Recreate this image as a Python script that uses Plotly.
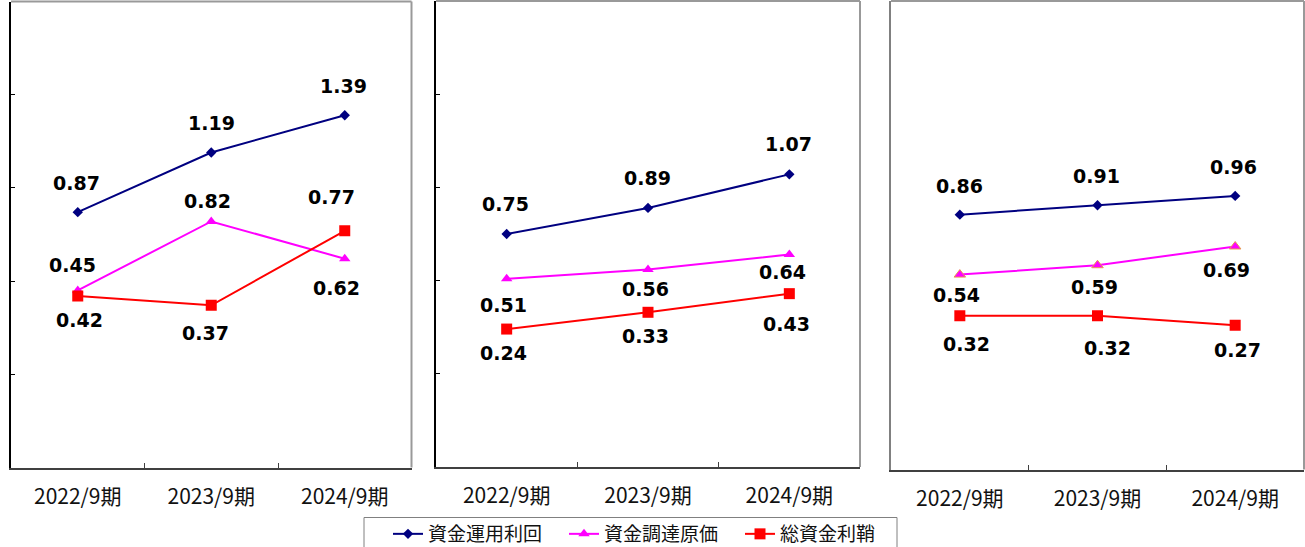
import plotly.graph_objects as go

# ---------------- data ----------------
categories = ["2022/9期", "2023/9期", "2024/9期"]
series_names = ["資金運用利回", "資金調達原価", "総資金利鞘"]

panel1_yield = [0.87, 1.19, 1.39]
panel1_cost = [0.45, 0.82, 0.62]
panel1_margin = [0.42, 0.37, 0.77]

panel2_yield = [0.75, 0.89, 1.07]
panel2_cost = [0.51, 0.56, 0.64]
panel2_margin = [0.24, 0.33, 0.43]

panel3_yield = [0.86, 0.91, 0.96]
panel3_cost = [0.54, 0.59, 0.69]
panel3_margin = [0.32, 0.32, 0.27]

y_ticks = [0, 0.5, 1.0, 1.5]

# ---------------- styles ----------------
W, H = 1305, 547
colors = ["#000080", "#FF00FF", "#FF0000"]
symbols = ["diamond", "triangle-up", "square"]
msizes = [8, 10, 11]

# label offsets (px) per panel -> series -> point : (dx, dy)  (dy>0 = below)
label_dx = [
    [[-1, 0, -1], [-5, -4, -8], [2, -6, -13]],
    [[-1, -1, -1], [-3, -3, -7], [-3, -3, -3]],
    [[0, -1, -2], [-3, -3, -9], [7, 10, 2]],
]
label_dy = [
    [[-29, -29, -29], [-25, -20, 29], [24, 28, -34]],
    [[-30, -30, -30], [26, 20, 17], [24, 24, 30]],
    [[-29, -29, -29], [20, 22, 24], [28, 32, 25]],
]

# panel pixel boxes (left, right, top, bottom)
boxes = [(11, 411.5, 1.5, 467.5), (436, 860, 1.0, 467.0), (891, 1304, 1.0, 469.5)]
left_line_colors = ["#000000", "#000000", "#808080"]

panels = [
    [panel1_yield, panel1_cost, panel1_margin],
    [panel2_yield, panel2_cost, panel2_margin],
    [panel3_yield, panel3_cost, panel3_margin],
]

fig = go.Figure()
annotations = []
shapes = []
layout = dict(
    width=W, height=H, margin=dict(l=0, r=0, t=0, b=0, autoexpand=False),
    paper_bgcolor="white", plot_bgcolor="white",
    showlegend=True,
)

for p, (series_list, box) in enumerate(zip(panels, boxes)):
    sfx = "" if p == 0 else str(p + 1)
    xa, ya = "x" + sfx, "y" + sfx
    l, r, t, b = box
    layout["xaxis" + sfx] = dict(
        domain=[l / W, r / W], type="category", range=[-0.5, 2.5],
        showline=True, linecolor="#404040", linewidth=2,
        ticks="inside", ticklen=5, tickcolor="#404040", tickwidth=1,
        tickson="boundaries", showgrid=False, zeroline=False,
        tickfont=dict(family="Noto Sans CJK JP", size=21, color="#111111"),
        ticklabelstandoff=9, anchor=ya, fixedrange=True, automargin=False,
    )
    layout["yaxis" + sfx] = dict(
        domain=[(H - b) / H, (H - t) / H], range=[-0.5, 2.0],
        showline=True, linecolor=left_line_colors[p], linewidth=2,
        tickvals=y_ticks if p < 2 else [], ticks="inside" if p < 2 else "",
        ticklen=4, tickcolor="#000000", tickwidth=1,
        showticklabels=False, showgrid=False, zeroline=False,
        anchor=xa, fixedrange=True, automargin=False,
    )
    # top and right frame lines (gray)
    shapes.append(dict(type="line", xref=xa + " domain", yref=ya + " domain",
                       x0=0, x1=1, y0=1, y1=1, line=dict(color="#999999", width=2)))
    shapes.append(dict(type="line", xref=xa + " domain", yref=ya + " domain",
                       x0=1, x1=1, y0=0, y1=1, line=dict(color="#999999", width=2)))

    for s, vals in enumerate(series_list):
        mline = dict(width=0)
        if p == 2 and s == 1:
            mline = dict(width=1, color="#E89A50")
        fig.add_trace(go.Scatter(
            x=categories, y=vals, xaxis=xa, yaxis=ya,
            mode="lines+markers", name=series_names[s],
            showlegend=(p == 0), legendrank=s,
            line=dict(color=colors[s], width=2),
            marker=dict(symbol=symbols[s], size=msizes[s], color=colors[s], line=mline),
            hoverinfo="skip",
        ))
        for i, v in enumerate(vals):
            annotations.append(dict(
                x=categories[i], y=v, xref=xa, yref=ya,
                text="<b>%.2f</b>" % v, showarrow=False,
                xanchor="center", yanchor="middle",
                xshift=label_dx[p][s][i], yshift=-label_dy[p][s][i],
                font=dict(family="DejaVu Sans", size=19, color="#000000"),
            ))

# legend frame (bottom edge runs past the page bottom)
shapes.append(dict(type="rect", xref="paper", yref="paper",
                   x0=364 / W, x1=897 / W, y0=-0.05, y1=(H - 517.5) / H,
                   line=dict(color="#808080", width=1), fillcolor="white", layer="below"))

layout["annotations"] = annotations
layout["shapes"] = shapes
layout["legend"] = dict(
    orientation="h", x=388 / W, xanchor="left", y=(H - 515) / H, yanchor="top",
    xref="container", yref="container",
    bgcolor="rgba(0,0,0,0)", borderwidth=0,
    font=dict(family="Noto Sans CJK JP", size=19, color="#111111"),
    entrywidth=131, entrywidthmode="pixels", itemclick=False, itemdoubleclick=False,
    traceorder="normal",
)
fig.update_layout(**layout)

page_css_js = (
    "var d=document.documentElement,b=document.body;"
    "d.style.margin='0';d.style.padding='0';d.style.overflow='hidden';"
    "b.style.margin='0';b.style.padding='0';b.style.overflow='hidden';"
)
fig.write_html(
    "out.html",
    config={"displayModeBar": False},
    post_script=page_css_js,
)
